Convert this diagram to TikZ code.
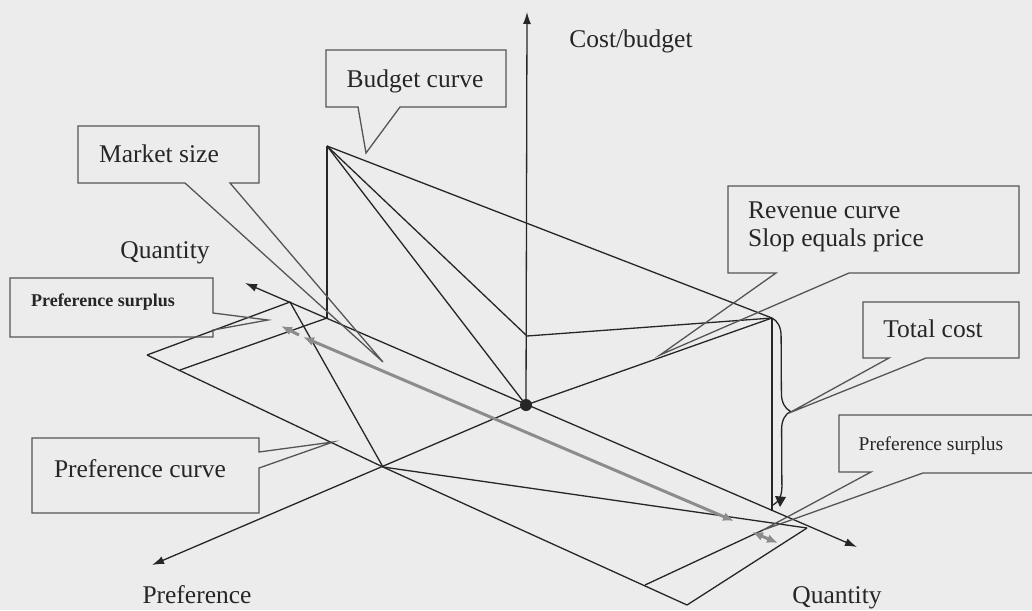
\documentclass[tikz,border=0pt]{standalone}
\usepackage{fontspec}
\setmainfont{Liberation Serif}
\usetikzlibrary{arrows.meta,decorations.pathreplacing}
\definecolor{paper}{RGB}{236,236,236}
\definecolor{ink}{RGB}{38,38,38}
\definecolor{frame}{RGB}{85,85,85}
\definecolor{surplus}{RGB}{140,140,140}
\begin{document}
\begin{tikzpicture}[x=1pt,y=-1pt,
  line/.style={draw=ink,line width=1.3pt},
  tip/.style={-{Latex[length=12pt,width=8pt]}},
  callout/.style={draw=frame,line width=1.3pt,line join=miter},
  lbl/.style={text=ink,font=\fontsize{25.5}{28}\selectfont,inner sep=0pt,anchor=base},
  small/.style={text=ink,font=\fontsize{19.5}{22}\selectfont,inner sep=0pt,anchor=base},
  smallbold/.style={text=ink,font=\fontsize{18}{21}\selectfont\bfseries,inner sep=0pt,anchor=base},
  gap/.style={draw=surplus,line width=3pt,
    {Latex[length=11pt,width=9pt]}-{Latex[length=11pt,width=9pt]}},
]
% page
\useasboundingbox (0,0) rectangle (1032,610);
\fill[paper] (0,0) rectangle (1032,610);
\clip (0,0) rectangle (1032,610);

% key points
\coordinate (O)  at (526,405);   % origin
\coordinate (CB) at (527,12);    % cost/budget axis tip
\coordinate (QL) at (245,283);   % quantity axis, far end
\coordinate (QR) at (857,547);   % quantity axis, near end
\coordinate (PR) at (152,565);   % preference axis tip
\coordinate (P1) at (327,146);   % budget apex
\coordinate (P2) at (327,318);   % foot of budget apex
\coordinate (C1) at (527,336);   % cost curve on cost axis
\coordinate (P4) at (772,318);   % total cost top
\coordinate (P5) at (772,511);   % total cost foot
\coordinate (P3) at (383,467);   % preference curve point
\coordinate (L1) at (147,355);
\coordinate (L2) at (290,302);
\coordinate (L3) at (180,370);
\coordinate (V1) at (645,585);
\coordinate (V2) at (687,605);
\coordinate (V3) at (807,528);
% callout tips
\coordinate (BT) at (366,153);
\coordinate (MT) at (383,362);
\coordinate (ST) at (268,320);
\coordinate (CT) at (333,442);
\coordinate (RT) at (660,355);
\coordinate (TT) at (789,413);
\coordinate (PT) at (763,530);

% axes
\draw[line,tip] (O) -- (CB);
\draw[line,{Latex[length=12pt,width=8pt]}-{Latex[length=12pt,width=8pt]}] (QL) -- (QR);
\draw[line,tip] (O) -- (PR);

% budget fan
\draw[line] (P1) -- (P2);
\draw[line] (P1) -- (O);
\draw[line] (P1) -- (C1) -- (P4);
\draw[line] (P1) -- (P4);
% revenue line
\draw[line] (O) -- (P4);
% total cost
\draw[line] (P4) -- (P5);

% preference plane
\draw[line] (L1) -- (P3);
\draw[line] (L1) -- (L2) -- (P3);
\draw[line] (L3) -- (P2);
\draw[line] (P3) -- (V2);
\draw[line] (P3) -- (V3);
\draw[line] (V1) -- (PT);
\draw[line] (V2) -- (V3);

% surplus markers
\draw[gap] (303,337) -- (734,521);
\draw[gap] (752,532) -- (778,543);
\draw[draw=surplus,line width=3pt,-{Latex[length=11pt,width=9pt]}] (299,335) -- (281,326);

% origin
\fill[ink] (O) circle (6pt);

% total cost brace
\draw[line,decorate,decoration={brace,amplitude=18pt}] (P4) -- (773,505);
\fill[ink] (775,496) -- (786,497) -- (780,507) -- cycle;

% callouts
\draw[callout] (326,50) -- (506,50) -- (506,107) -- (400,107) -- (BT) -- (358,107) -- (326,107) -- cycle;
\draw[callout] (78,126) -- (259,126) -- (259,183) -- (230,183) -- (MT) -- (185,183) -- (78,183) -- cycle;
\draw[callout] (10,278) -- (213,278) -- (213,313) -- (ST) -- (213,330) -- (213,337) -- (10,337) -- cycle;
\draw[callout] (32,438) -- (259,438) -- (259,452) -- (CT) -- (259,468) -- (259,513) -- (32,513) -- cycle;
\draw[callout] (728,186) -- (1019,186) -- (1019,273) -- (849,273) -- (RT) -- (776,273) -- (728,273) -- cycle;
\draw[callout] (863,302) -- (1019,302) -- (1019,358) -- (926,358) -- (TT) -- (889,358) -- (863,358) -- cycle;
\draw[callout] (839,415) -- (1040,415) -- (1040,473) -- (923,473) -- (PT) -- (871,472) -- (839,472) -- cycle;

% labels
\node[lbl] (tBudget) at (415,87) {Budget curve};
\node[lbl] (tMarket) at (159,162) {Market size};
\node[lbl] (tQtyL) at (165,258) {Quantity};
\node[smallbold] (tSurL) at (103,306) {Preference surplus};
\node[lbl] (tPrefC) at (140,477) {Preference curve};
\node[lbl] (tPref) at (197,603) {Preference};
\node[lbl] (tCost) at (631,48) {Cost/budget};
\node[lbl,anchor=base west] (tRev) at (748,218) {Revenue curve};
\node[lbl,anchor=base west] (tSlope) at (748,246) {Slop equals price};
\node[lbl] (tTotal) at (933,337) {Total cost};
\node[small] (tSurR) at (931,450) {Preference surplus};
\node[lbl] (tQtyR) at (837,603) {Quantity};
\end{tikzpicture}
\end{document}
